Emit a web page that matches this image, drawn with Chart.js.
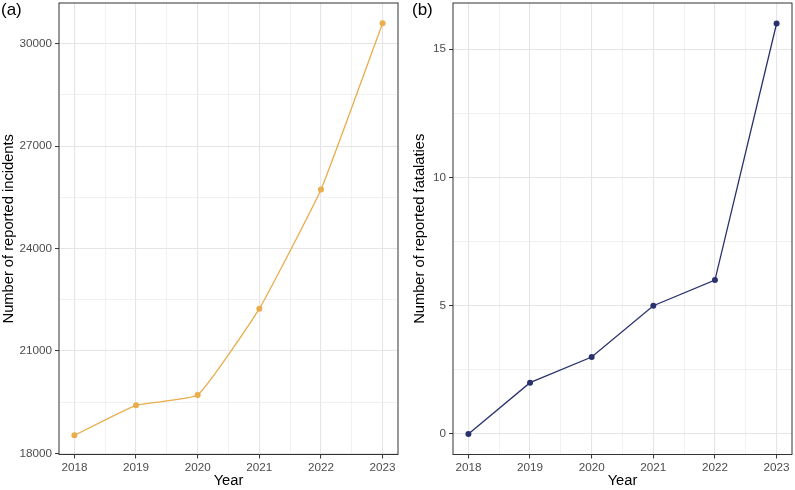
<!DOCTYPE html>
<html>
<head>
<meta charset="utf-8">
<script src="https://cdn.jsdelivr.net/npm/chart.js@4.4.0/dist/chart.umd.min.js"></script>
<style>
  body { margin: 0; background: #fff; }
  #wrap { position: relative; width: 795px; height: 490px; overflow: hidden; }
  canvas { position: absolute; top: 0; }
  .tag { position: absolute; font: 17px "Liberation Sans", Arial, sans-serif; color: #000; line-height: 1; }
</style>
</head>
<body>
<div id="wrap">
  <canvas id="incidentsChart" width="401" height="490" style="left:0"></canvas>
  <canvas id="fatalitiesChart" width="394" height="490" style="left:401px"></canvas>
  <div class="tag" style="left:1px;top:1px">(a)</div>
  <div class="tag" style="left:412px;top:1px">(b)</div>
</div>
<script>
// Data
const years = [2018, 2019, 2020, 2021, 2022, 2023];
const incidents = [18530, 19410, 19710, 22240, 25730, 30600];
const fatalities = [0, 2, 3, 5, 6, 16];

// Tick positions (major ones get labels, the rest are minor grid lines)
const yearTicks = [2018, 2018.5, 2019, 2019.5, 2020, 2020.5, 2021, 2021.5, 2022, 2022.5, 2023];
const yearLabels = [2018, 2019, 2020, 2021, 2022, 2023];
const incidentTicks = [18000, 19500, 21000, 22500, 24000, 25500, 27000, 28500, 30000];
const incidentLabels = [18000, 21000, 24000, 27000, 30000];
const fatalityTicks = [0, 2.5, 5, 7.5, 10, 12.5, 15];
const fatalityLabels = [0, 5, 10, 15];

const FONT = '"Liberation Sans", Arial, sans-serif';

// ggplot-like panel border
const panelBorder = {
  id: 'panelBorder',
  afterDraw(chart) {
    const a = chart.chartArea;
    const ctx = chart.ctx;
    ctx.save();
    ctx.strokeStyle = '#333333';
    ctx.lineWidth = 1;
    ctx.strokeRect(a.left, a.top, a.right - a.left, a.bottom - a.top);
    ctx.restore();
  }
};

function gridFor(labels) {
  const major = ctx => ctx.tick && labels.includes(ctx.tick.value);
  return {
    color: ctx => major(ctx) ? '#E5E5E5' : '#EEEEEE',
    lineWidth: ctx => major(ctx) ? 1.1 : 0.8,
    tickColor: ctx => major(ctx) ? '#333333' : 'rgba(0,0,0,0)',
    tickWidth: 1,
    tickLength: 4,
    drawTicks: true
  };
}

function makeChart(id, values, color, cfg) {
  return new Chart(document.getElementById(id), {
    type: 'line',
    data: {
      datasets: [{
        data: years.map((yr, i) => ({ x: yr, y: values[i] })),
        borderColor: color,
        backgroundColor: color,
        borderWidth: 1.3,
        pointRadius: 3,
        pointHoverRadius: 3,
        pointBorderWidth: 0,
        tension: cfg.tension,
        fill: false
      }]
    },
    options: {
      responsive: false,
      animation: false,
      devicePixelRatio: 1,
      layout: { padding: { top: 0.5, right: cfg.padRight, bottom: 0, left: 0 } },
      plugins: { legend: { display: false }, tooltip: { enabled: false } },
      scales: {
        x: {
          type: 'linear',
          min: 2017.75,
          max: 2023.25,
          afterBuildTicks: s => { s.ticks = yearTicks.map(v => ({ value: v })); },
          afterFit: s => { s.height = 35.5; s.paddingLeft = 0; s.paddingRight = 0; },
          ticks: {
            autoSkip: false,
            maxRotation: 0,
            padding: 2,
            color: '#4D4D4D',
            font: { family: FONT, size: 11.7 },
            callback: v => yearLabels.includes(v) ? String(v) : ''
          },
          grid: gridFor(yearLabels),
          border: { display: false },
          title: {
            display: true,
            text: 'Year',
            color: '#000',
            font: { family: FONT, size: 14.7 },
            padding: { top: 2, bottom: 0 }
          }
        },
        y: {
          min: cfg.yMin,
          max: cfg.yMax,
          afterBuildTicks: s => { s.ticks = cfg.yTicks.map(v => ({ value: v })); },
          afterFit: s => { s.width = cfg.yWidth; s.paddingTop = 0; s.paddingBottom = 0; },
          ticks: {
            autoSkip: false,
            padding: 3,
            color: '#4D4D4D',
            font: { family: FONT, size: 11.7 },
            callback: v => cfg.yLabels.includes(v) ? String(v) : ''
          },
          grid: gridFor(cfg.yLabels),
          border: { display: false },
          title: {
            display: true,
            text: cfg.yTitle,
            color: '#000',
            font: { family: FONT, size: 14.7 },
            padding: { top: cfg.titlePad, bottom: 0 }
          }
        }
      }
    },
    plugins: [panelBorder]
  });
}

makeChart('incidentsChart', incidents, '#E9AD4C', {
  yMin: 17970, yMax: 31190,
  yTicks: incidentTicks, yLabels: incidentLabels,
  yTitle: 'Number of reported incidents',
  yWidth: 59, titlePad: 0, padRight: 1, tension: 0.12
});

makeChart('fatalitiesChart', fatalities, '#2A326E', {
  yMin: -0.8, yMax: 16.8,
  yTicks: fatalityTicks, yLabels: fatalityLabels,
  yTitle: 'Number of reported fatalaties',
  yWidth: 52, titlePad: 10, padRight: 2, tension: 0
});
</script>
</body>
</html>
